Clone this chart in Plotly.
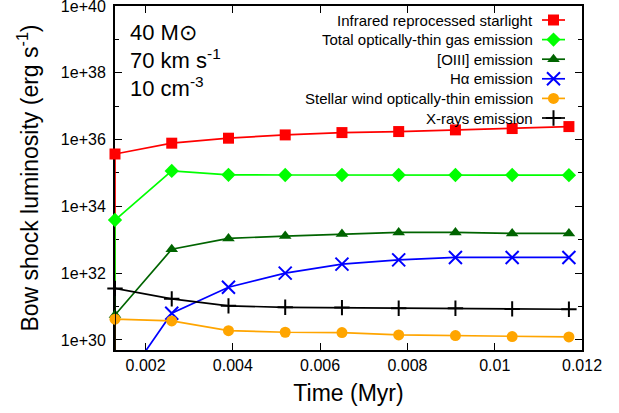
import math
import plotly.graph_objects as go

# Bow shock luminosity evolution: 40 Msun star, 70 km/s, 10 cm^-3
time_myr = [0.0013, 0.0026, 0.0039, 0.0052, 0.0065, 0.0078, 0.0091, 0.0104, 0.0117]
onset_time = 0.0013          # first snapshot, where the shock switches on
onset_floor = 1e27           # luminosity before the shock has formed (erg/s)

infrared = [3.7e35, 7.8e35, 1.1e36, 1.38e36, 1.62e36, 1.74e36, 1.95e36, 2.14e36, 2.45e36]
gas_total = [3.9e33, 1.15e35, 8.8e34, 8.7e34, 8.7e34, 8.7e34, 8.7e34, 8.7e34, 8.6e34]
oiii = [5.6e30, 5.2e32, 1.1e33, 1.29e33, 1.48e33, 1.66e33, 1.66e33, 1.55e33, 1.55e33]
halpha = [2.2e28, 6.3e30, 3.8e31, 1.0e32, 1.86e32, 2.5e32, 2.95e32, 2.95e32, 2.95e32]
wind = [4.2e30, 3.7e30, 1.9e30, 1.7e30, 1.66e30, 1.41e30, 1.35e30, 1.26e30, 1.23e30]
xrays = [3.5e31, 1.7e31, 1.05e31, 9.5e30, 9.3e30, 8.9e30, 8.9e30, 8.5e30, 8.3e30]

labels = [
    "Infrared reprocessed starlight",
    "Total optically-thin gas emission",
    "[OIII] emission",
    "H\u03b1 emission",
    "Stellar wind optically-thin emission",
    "X-rays emission",
]
series = [infrared, gas_total, oiii, halpha, wind, xrays]
colors = ["#ff0000", "#00ff00", "#006400", "#0000ff", "#ffa500", "#000000"]
symbols = ["square", "diamond", "triangle-up", "x-thin", "circle", "cross-thin"]
sizes = [11, 11, 11, 13, 11, 11]

x_range = [0.0013, 0.012]
y_min, y_max = 5e29, 1e40
x_ticks = [0.002, 0.004, 0.006, 0.008, 0.01, 0.012]
y_major = [1e30, 1e32, 1e34, 1e36, 1e38, 1e40]
y_minor = [1e31, 1e33, 1e35, 1e37, 1e39]

FONT = "Liberation Sans, Arial, Helvetica, sans-serif"

# plot frame in page pixels, used for the hand-made key
W, H = 619, 413
L, R, T, B = 115, 582, 6, 350

fig = go.Figure()


def marker_style(color, symbol, size):
    thin = symbol.endswith("-thin")
    return dict(
        symbol=symbol,
        size=size,
        color=color,
        line=dict(color=color, width=2 if thin else 0),
    )


for name, vals, c, sym, sz in zip(labels, series, colors, symbols, sizes):
    xs = [onset_time] + time_myr
    ys = [onset_floor] + vals
    fig.add_trace(go.Scatter(
        x=xs, y=ys, mode="lines", line=dict(color=c, width=1.7),
        showlegend=False, hoverinfo="skip",
    ))
    keep = [i for i, v in enumerate(vals) if v >= y_min]
    fig.add_trace(go.Scatter(
        x=[time_myr[i] for i in keep], y=[vals[i] for i in keep],
        mode="markers", marker=marker_style(c, sym, sz),
        cliponaxis=False, showlegend=False, name=name,
    ))

# key: text right-aligned, sample line + symbol to its right
row_y = [20, 39.6, 59.2, 78.8, 98.4, 118]
text_right = 535
samp_x0, samp_x1 = 542, 565
for name, c, sym, sz, yy in zip(labels, colors, symbols, sizes, row_y):
    fig.add_trace(go.Scatter(
        x=[samp_x0, samp_x1], y=[yy, yy], xaxis="x2", yaxis="y2",
        mode="lines", line=dict(color=c, width=1.7),
        showlegend=False, hoverinfo="skip",
    ))
    fig.add_trace(go.Scatter(
        x=[(samp_x0 + samp_x1) / 2], y=[yy], xaxis="x2", yaxis="y2",
        mode="markers", marker=marker_style(c, sym, sz),
        showlegend=False, hoverinfo="skip",
    ))
    fig.add_annotation(
        x=text_right, y=yy, xref="x2", yref="y2", text=name,
        xanchor="right", yanchor="middle", showarrow=False,
        font=dict(family=FONT, size=15, color="#000000"),
    )

# model parameters, top left
for txt, yy in zip(["40 M\u2299", "70 km s<sup>-1</sup>", "10 cm<sup>-3</sup>"], [32.5, 58.5, 86.5]):
    fig.add_annotation(
        x=128, y=yy, xref="x2", yref="y2", text=txt,
        xanchor="left", yanchor="middle", showarrow=False,
        font=dict(family=FONT, size=22, color="#000000"),
    )

axis_common = dict(
    showline=True, linecolor="#000000", linewidth=2, mirror="ticks",
    ticks="inside", tickcolor="#000000", tickwidth=1.3, ticklen=7,
    showgrid=False, zeroline=False, layer="below traces",
    tickfont=dict(family=FONT, size=16, color="#000000"),
    ticklabeloverflow="allow", automargin=False,
)

fig.update_layout(
    width=W, height=H,
    margin=dict(l=L, r=W - R, t=T, b=H - B, autoexpand=False),
    paper_bgcolor="#ffffff", plot_bgcolor="#ffffff",
    showlegend=False,
    xaxis=dict(
        range=x_range, tickvals=x_ticks,
        ticktext=[f"{v:g}" for v in x_ticks],
        title=dict(text="Time (Myr)", font=dict(family=FONT, size=23, color="#000000"), standoff=12),
        ticklabelstandoff=0,
        **axis_common,
    ),
    yaxis=dict(
        type="log", range=[math.log10(y_min), math.log10(y_max)],
        tickvals=y_major,
        ticktext=[f"1e+{round(math.log10(v))}" for v in y_major],
        minor=dict(tickvals=y_minor, ticks="inside", ticklen=4, tickcolor="#000000", tickwidth=1.3),
        title=dict(text="Bow shock luminosity (erg s<sup>-1</sup>)",
                   font=dict(family=FONT, size=23, color="#000000"), standoff=16),
        ticklabelstandoff=4,
        **axis_common,
    ),
    xaxis2=dict(overlaying="x", range=[L, R], visible=False, fixedrange=True),
    yaxis2=dict(overlaying="y", range=[B, T], visible=False, fixedrange=True),
)

fig.write_html("out.html")
